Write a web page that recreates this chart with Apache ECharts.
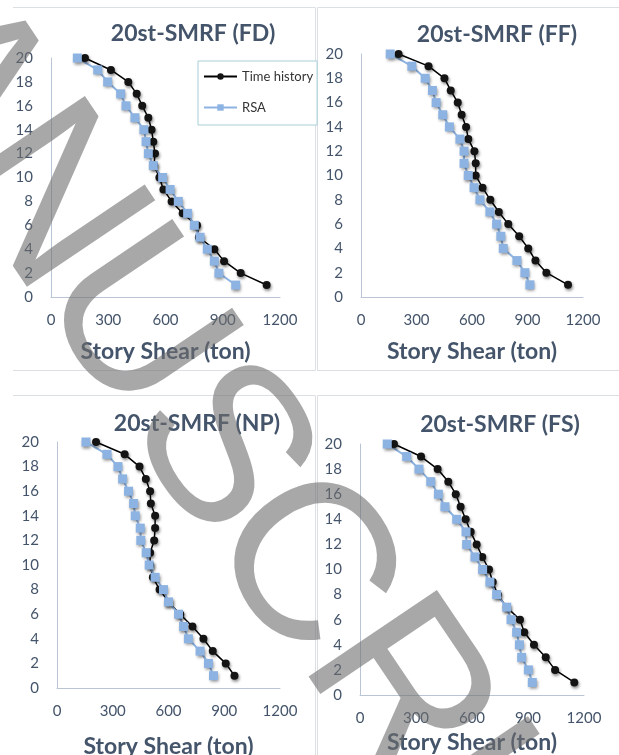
<!DOCTYPE html>
<html>
<head>
<meta charset="utf-8">
<script src="https://cdn.jsdelivr.net/npm/echarts@6/dist/echarts.min.js"></script>
<style>
  html, body { margin: 0; padding: 0; background: #fff; }
  #chart { width: 619px; height: 755px; }
</style>
</head>
<body>
<div id="chart"></div>
<script>
// storeys, top to bottom
const stories = [20, 19, 18, 17, 16, 15, 14, 13, 12, 11, 10, 9, 8, 7, 6, 5, 4, 3, 2, 1]

// story shear (ton)
const fdTime = [178, 314, 405, 449, 478, 510, 527, 536, 545, 540, 568, 589, 632, 690, 765, 775, 856, 907, 994, 1130]
const fdRsa = [138, 245, 297, 365, 393, 440, 487, 498, 510, 536, 585, 624, 667, 716, 751, 781, 819, 856, 880, 968]
const ffTime = [203, 365, 451, 485, 523, 544, 568, 580, 613, 620, 620, 657, 699, 745, 796, 855, 904, 943, 1002, 1119]
const ffRsa = [158, 275, 347, 386, 406, 442, 478, 535, 557, 557, 580, 611, 643, 697, 733, 756, 769, 843, 886, 913]
const npTime = [210, 364, 444, 478, 501, 505, 528, 528, 523, 501, 501, 516, 552, 600, 663, 729, 788, 838, 908, 955]
const npRsa = [156, 269, 328, 353, 385, 412, 421, 448, 451, 480, 496, 528, 573, 600, 654, 681, 707, 770, 815, 842]
const fsTime = [182, 327, 416, 473, 513, 539, 566, 593, 625, 655, 691, 711, 738, 786, 857, 880, 932, 995, 1045, 1148]
const fsRsa = [146, 250, 316, 379, 420, 455, 518, 568, 571, 616, 657, 696, 732, 786, 809, 839, 854, 866, 902, 923]

const panelTitles = ['20st-SMRF (FD)', '20st-SMRF (FF)', '20st-SMRF (NP)', '20st-SMRF (FS)']
const xName = 'Story Shear (ton)'
const seriesNames = ['Time history', 'RSA']

const TEXT = '#44546a'
const AXIS = '#b9c4d4'
const BLUE = '#8db3e2'
const FONT = 'Lato'

const panels = [
  { grid: { left: 51, top: 58, width: 229, height: 239 }, title: [193, 34], nameGap: 43, time: fdTime, rsa: fdRsa },
  { grid: { left: 361, top: 54, width: 222, height: 243 }, title: [497, 35], nameGap: 43, time: ffTime, rsa: ffRsa },
  { grid: { left: 57, top: 442, width: 223, height: 246 }, title: [197, 424], nameGap: 47, time: npTime, rsa: npRsa },
  { grid: { left: 360, top: 444, width: 224, height: 251 }, title: [500, 425], nameGap: 36, time: fsTime, rsa: fsRsa }
]

const toPairs = (vals) => vals.map((v, i) => [v, stories[i]])

const chart = echarts.init(document.getElementById('chart'))

// fixed plot boxes: do not let v6 shrink them to fit the labels
const grid = panels.map(p => Object.assign({ outerBoundsMode: 'none', containLabel: false }, p.grid))

const xAxis = panels.map((p, i) => ({
  gridIndex: i,
  type: 'value',
  min: 0,
  max: 1200,
  interval: 300,
  axisLine: { show: true, lineStyle: { color: AXIS, width: 1 } },
  axisTick: { show: false },
  splitLine: { show: false },
  axisLabel: { color: TEXT, fontFamily: FONT, fontSize: 15, margin: 16, formatter: v => String(v) },
  name: xName,
  nameLocation: 'middle',
  nameGap: p.nameGap,
  nameTextStyle: { color: TEXT, fontFamily: FONT, fontWeight: 'bold', fontSize: 23 }
}))

const yAxis = panels.map((p, i) => ({
  gridIndex: i,
  type: 'value',
  min: 0,
  max: 20,
  interval: 2,
  axisLine: { show: true, lineStyle: { color: AXIS, width: 1 } },
  axisTick: { show: false },
  splitLine: { show: false },
  axisLabel: { color: TEXT, fontFamily: FONT, fontSize: 15, margin: 18 }
}))

const shadow = { shadowColor: 'rgba(0,0,0,0.45)', shadowBlur: 3, shadowOffsetX: 1, shadowOffsetY: 2 }

const series = []
panels.forEach((p, i) => {
  series.push({
    name: seriesNames[0],
    type: 'line',
    xAxisIndex: i,
    yAxisIndex: i,
    data: toPairs(p.time),
    symbol: 'circle',
    symbolSize: 8,
    lineStyle: { color: '#000', width: 1.5 },
    itemStyle: Object.assign({ color: '#141414' }, shadow)
  })
  series.push({
    name: seriesNames[1],
    type: 'line',
    xAxisIndex: i,
    yAxisIndex: i,
    data: toPairs(p.rsa),
    symbol: 'rect',
    symbolSize: 9,
    lineStyle: { color: BLUE, width: 2 },
    itemStyle: Object.assign({ color: BLUE }, shadow)
  })
})

// panel frames (top, right, bottom edges)
const frameLine = (pts) => ({
  type: 'polyline',
  shape: { points: pts },
  style: { stroke: '#dcdfe4', lineWidth: 1, fill: null },
  silent: true
})

const graphic = [
  frameLine([[13, 7.5], [315.5, 7.5], [315.5, 370.5], [13, 370.5]]),
  frameLine([[317.5, 370.5], [317.5, 7.5], [619, 7.5]]),
  frameLine([[619, 370.5], [317.5, 370.5]]),
  frameLine([[13, 395.5], [315.5, 395.5], [315.5, 755]]),
  frameLine([[317.5, 755], [317.5, 395.5], [619, 395.5]])
]

panels.forEach((p, i) => {
  graphic.push({
    type: 'text',
    x: p.title[0],
    y: p.title[1],
    style: {
      text: panelTitles[i],
      font: 'bold 23px ' + FONT,
      fill: TEXT,
      align: 'center',
      verticalAlign: 'middle'
    }
  })
})

// diagonal "MANUSCRIPT" watermark over the figure
const markLetters = ['M', 'A', 'N', 'U', 'S', 'C', 'R', 'I', 'P', 'T']
const markCentres = [[-125, -33], [-45, 82], [43, 200], [131, 324], [217, 450], [299, 566], [395, 694], [457, 777], [525, 872], [605, 982]]
markLetters.forEach((ch, i) => {
  graphic.push({
    type: 'text',
    x: markCentres[i][0],
    y: markCentres[i][1],
    rotation: -56 * Math.PI / 180,
    z: 100,
    silent: true,
    style: {
      text: ch,
      font: '225px "Liberation Sans"',
      fill: 'rgba(110,110,110,0.6)',
      align: 'center',
      verticalAlign: 'middle'
    }
  })
})

chart.setOption({
  animation: false,
  backgroundColor: '#fff',
  grid,
  xAxis,
  yAxis,
  series,
  legend: {
    data: seriesNames,
    orient: 'vertical',
    left: 198,
    top: 61,
    padding: [9, 4, 11, 5],
    itemWidth: 33,
    itemHeight: 8,
    itemGap: 18,
    backgroundColor: '#fff',
    borderColor: '#a7d0d8',
    borderWidth: 1,
    borderRadius: 0,
    textStyle: { fontFamily: FONT, fontSize: 13, color: '#333' }
  },
  graphic
})
</script>
</body>
</html>
